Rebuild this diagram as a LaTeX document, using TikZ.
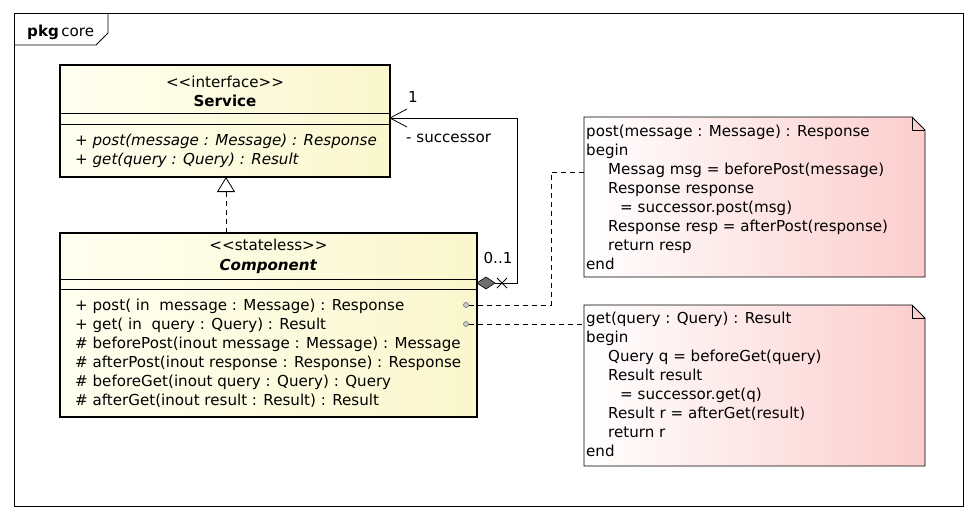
\documentclass[tikz,border=0pt]{standalone}
\usepackage{fontspec}
\setmainfont{DejaVu Sans}
\usetikzlibrary{arrows.meta,calc}
\definecolor{clsL}{RGB}{255,255,240}
\definecolor{clsR}{RGB}{250,247,205}
\definecolor{noteL}{RGB}{255,255,255}
\definecolor{noteR}{RGB}{252,205,205}
\definecolor{dgray}{RGB}{110,110,110}
\newcommand\umlsize{\fontsize{15.1}{19}\selectfont}
\begin{document}
\begin{tikzpicture}[x=1pt,y=-1pt,
  txt/.style={anchor=base west,inner sep=0pt,font=\umlsize},
  ctxt/.style={anchor=base,inner sep=0pt,font=\umlsize},
  clsbox/.style={draw=black,line width=2.6pt,left color=clsL,right color=clsR,shading angle=90},
  sepline/.style={line width=0.8pt},
  notebox/.style={draw=black,line width=0.8pt,left color=noteL,right color=noteR},
  dashlink/.style={dashed,dash pattern=on 5pt off 4pt,line width=0.8pt},
  assoc/.style={line width=0.8pt},
  port/.style={circle,draw=dgray,fill=gray!40,inner sep=0pt,minimum size=5pt,line width=0.6pt}
]
\useasboundingbox (0,0) rectangle (977,520);
\fill[white] (0,0) rectangle (977,520);
% frame
\draw[line width=0.8pt] (14,13) rectangle (963,506);
\draw[line width=0.8pt] (14,45) -- (96,45) -- (108,33) -- (108,13);
\node[txt] (pkg) at (27,36) {\textbf{pkg}\,core};

% Service
\node[clsbox,minimum width=330pt,minimum height=112pt,inner sep=0pt] (service) at (225,121) {};
\draw[sepline] (60,113) -- (390,113);
\draw[sepline] (60,124) -- (390,124);
\node[ctxt] (sst) at (225,87) {<{}<interface>{}>};
\node[ctxt] (sname) at (225,106) {\textbf{Service}};
\node[txt] (sop1) at (75,145) {\itshape + post(message : Message) : Response};
\node[txt] (sop2) at (75,164) {\itshape + get(query : Query) : Result};

% Component
\node[clsbox,minimum width=417pt,minimum height=184pt,inner sep=0pt] (component) at (268.5,325) {};
\draw[sepline] (60,279) -- (477,279);
\draw[sepline] (60,289) -- (477,289);
\node[ctxt] (cst) at (268.5,250) {<{}<stateless>{}>};
\node[ctxt] (cname) at (268.5,270) {\textbf{\itshape Component}};
\node[txt] (cop1) at (75,310) {+ post( in\ \ message : Message) : Response};
\node[txt] (cop2) at (75,329) {+ get( in\ \ query : Query) : Result};
\node[txt] (cop3) at (75,348) {\# beforePost(inout message : Message) : Message};
\node[txt] (cop4) at (75,367) {\# afterPost(inout response : Response) : Response};
\node[txt] (cop5) at (75,386) {\# beforeGet(inout query : Query) : Query};
\node[txt] (cop6) at (75,405) {\# afterGet(inout result : Result) : Result};
\node[port] (port1) at (466,305) {};
\node[port] (port2) at (466,324) {};

% realization
\coordinate (realTop) at (226,177);
\coordinate (realBot) at (226,233);
\draw[dashlink,-{Triangle[open,length=15pt,width=18pt]}] (realBot) -- (realTop);

% association
\coordinate (asStart) at (477,283);
\coordinate (asEnd) at (390,118);
\draw[fill=dgray,line width=0.6pt] (asStart) -- ++(9,-6) -- ++(9,6) -- ++(-9,6) -- cycle;
\draw[assoc] ($(asStart)+(18,0)$) -- ++(22,0) |- (asEnd);
\draw[assoc] ($(asStart)+(20,-5)$) -- ++(10,10);
\draw[assoc] ($(asStart)+(20,5)$) -- ++(10,-10);
\draw[assoc] (asEnd) -- ++(17,-9);
\draw[assoc] (asEnd) -- ++(17,9);
\node[ctxt] (mult1) at (413,102) {1};
\node[txt] (role) at (406,142) {- successor};
\node[ctxt] (mult2) at (498,263) {0..1};

% notes
\node[inner sep=0pt,minimum width=341pt,minimum height=160pt] (note1) at (754.5,197) {};
\draw[notebox] (584,117) -- (912,117) -- (925,130) -- (925,277) -- (584,277) -- cycle;
\draw[line width=0.8pt] (912,117) -- (912,130) -- (925,130);
\node[txt] (n1a) at (586,136) {post(message : Message) : Response};
\node[txt] (n1b) at (586,155) {begin};
\node[txt] (n1c) at (608,174) {Messag msg = beforePost(message)};
\node[txt] (n1d) at (608,193) {Response response};
\node[txt] (n1e) at (620,212) {= successor.post(msg)};
\node[txt] (n1f) at (608,231) {Response resp = afterPost(response)};
\node[txt] (n1g) at (608,250) {return resp};
\node[txt] (n1h) at (586,269) {end};

\node[inner sep=0pt,minimum width=341pt,minimum height=161pt] (note2) at (754.5,385.5) {};
\draw[notebox] (584,305) -- (912,305) -- (925,318) -- (925,466) -- (584,466) -- cycle;
\draw[line width=0.8pt] (912,305) -- (912,318) -- (925,318);
\node[txt] (n2a) at (586,323) {get(query : Query) : Result};
\node[txt] (n2b) at (586,342) {begin};
\node[txt] (n2c) at (608,361) {Query q = beforeGet(query)};
\node[txt] (n2d) at (608,380) {Result result};
\node[txt] (n2e) at (620,399) {= successor.get(q)};
\node[txt] (n2f) at (608,418) {Result r = afterGet(result)};
\node[txt] (n2g) at (608,437) {return r};
\node[txt] (n2h) at (586,456) {end};

% note links
\draw[dashlink] (port1.east) -- (551,305) |- (note1.west |- 0,172);
\draw[dashlink] (port2.east) -- (note2.west |- port2);
\end{tikzpicture}
\end{document}
